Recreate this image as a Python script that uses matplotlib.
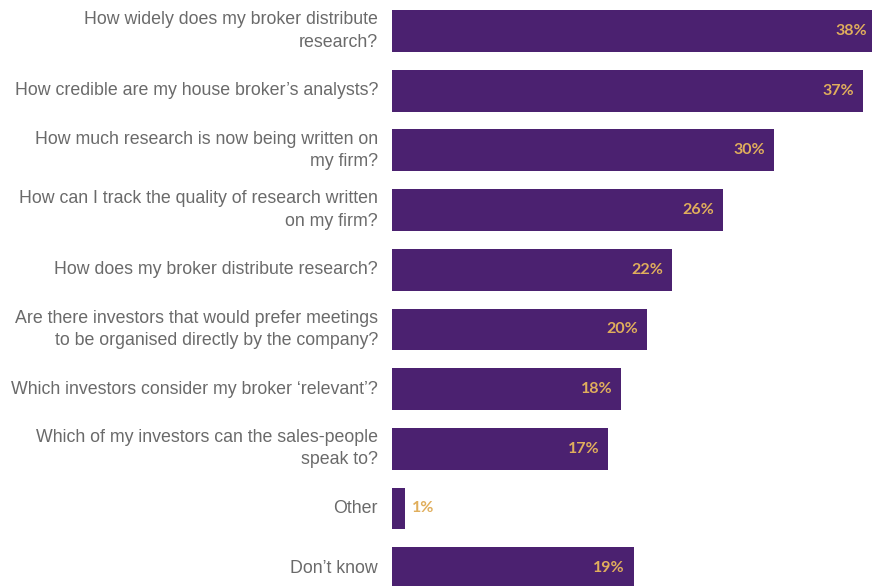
import matplotlib.pyplot as plt
from matplotlib.transforms import offset_copy

questions = [
    "How widely does my broker distribute\nresearch?",
    "How credible are my house broker\u2019s analysts?",
    "How much research is now being written on\nmy firm?",
    "How can I track the quality of research written\non my firm?",
    "How does my broker distribute research?",
    "Are there investors that would prefer meetings\nto be organised directly by the company?",
    "Which investors consider my broker \u2018relevant\u2019?",
    "Which of my investors can the sales-people\nspeak to?",
    "Other",
    "Don\u2019t know",
]
shares = [38, 37, 30, 26, 22, 20, 18, 17, 1, 19]

bar_color = "#4b2170"
value_color = "#e0ae5c"
label_color = "#6a6a6a"

fig = plt.figure(figsize=(8.72, 5.86), dpi=100)
ax = fig.add_axes([392 / 872, 0, 480 / 872, 1])

ypos = list(range(len(shares)))
ax.barh(ypos, shares, height=0.70, color=bar_color)
ax.set_xlim(0, 37.7)
ax.set_ylim(9.30, -0.52)
ax.axis("off")

for y, q, v in zip(ypos, questions, shares):
    # question text sits left of the bars
    ax.text(0, y, q, transform=offset_copy(ax.transData, fig=fig, x=-14, y=0, units="dots"),
            ha="right", va="center", fontsize=12.8, color=label_color,
            family="Liberation Sans", linespacing=1.42, clip_on=False)
    if v >= 5:
        t = offset_copy(ax.transData, fig=fig, x=-9, y=0, units="dots")
        ha = "right"
    else:
        t = offset_copy(ax.transData, fig=fig, x=7, y=0, units="dots")
        ha = "left"
    ax.text(v, y, f"{v}%", transform=t, ha=ha, va="center", fontsize=11.5,
            fontweight="bold", color=value_color, family="Lato")

fig.savefig("out.png", dpi=100)
